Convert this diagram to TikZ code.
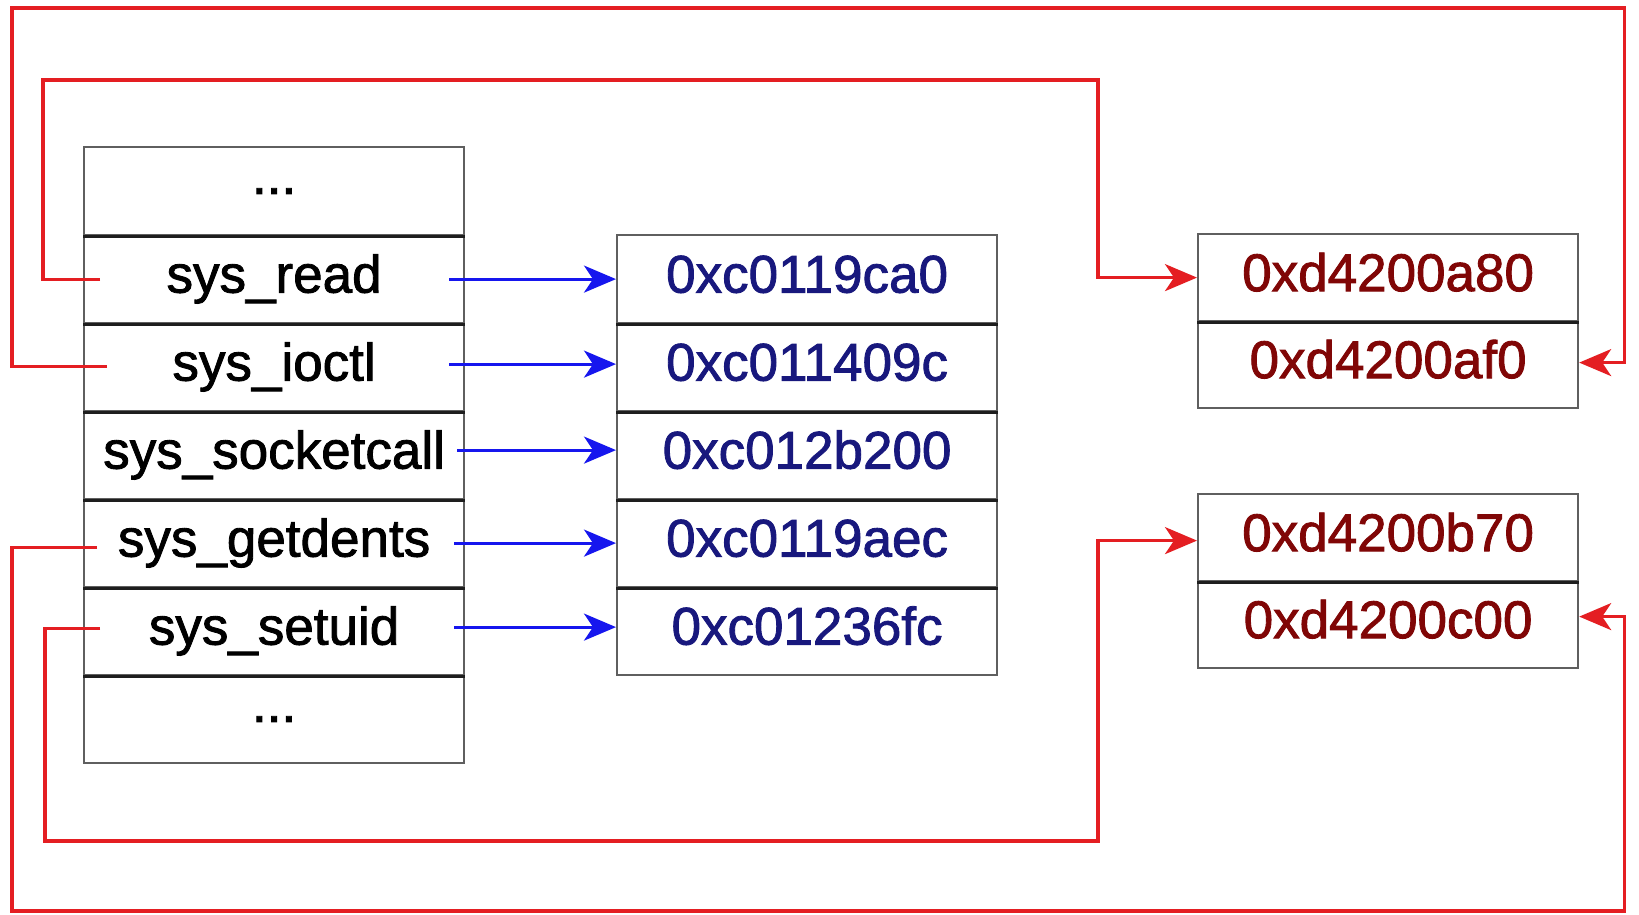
\documentclass[tikz,border=0pt]{standalone}
\usepackage{fontspec}
\setmainfont{Liberation Sans}
\newfontfamily\heavyfont{Liberation Sans}[FakeBold=1.6]
\usetikzlibrary{arrows.meta}
\definecolor{redln}{RGB}{228,30,34}
\definecolor{blueln}{RGB}{22,22,238}
\definecolor{bluetxt}{RGB}{24,24,125}
\definecolor{redtxt}{RGB}{128,6,6}
\definecolor{boxgray}{RGB}{95,95,95}
\definecolor{sepcol}{RGB}{30,30,30}
\tikzset{
  cell/.style={draw=boxgray, line width=2.2pt, minimum width=380pt, minimum height=88pt,
    inner sep=0pt, anchor=north west, font=\heavyfont\fontsize{53pt}{60pt}\selectfont,
    text height=38pt, text depth=11pt},
  dotcell/.style={cell, text height=, text depth=},
  rcell/.style={cell, minimum height=87pt, text=redtxt},
  mcell/.style={cell, text=bluetxt},
  sepline/.style={draw=sepcol, line width=3.4pt},
  bluearrow/.style={draw=blueln, line width=3pt, -{Stealth[length=32pt,width=27pt,inset=9pt]}},
  redarrow/.style={draw=redln, line width=3.2pt, -{Stealth[length=32pt,width=27pt,inset=9pt]}},
}
\begin{document}
\begin{tikzpicture}[x=1pt,y=-1pt]
\useasboundingbox (0,0) rectangle (1639,914);
\fill[white] (0,0) rectangle (1639,914);

% left table
\node[dotcell] (l0) at (83,146) {...};
\node[cell] (l1) at (83,234) {sys\_read};
\node[cell] (l2) at (83,322) {sys\_ioctl};
\node[cell] (l3) at (83,410) {sys\_socketcall};
\node[cell] (l4) at (83,498) {sys\_getdents};
\node[cell] (l5) at (83,586) {sys\_setuid};
\node[dotcell] (l6) at (83,674) {...};
\foreach \n in {l0,l1,l2,l3,l4,l5}
  \draw[sepline] (\n.south west) -- (\n.south east);

% middle table
\node[mcell] (m1) at (616,234) {0xc0119ca0};
\node[mcell] (m2) at (616,322) {0xc011409c};
\node[mcell] (m3) at (616,410) {0xc012b200};
\node[mcell] (m4) at (616,498) {0xc0119aec};
\node[mcell] (m5) at (616,586) {0xc01236fc};
\foreach \n in {m1,m2,m3,m4}
  \draw[sepline] (\n.south west) -- (\n.south east);

% right tables
\node[rcell] (a1) at (1197,233) {0xd4200a80};
\node[rcell] (a2) at (1197,320) {0xd4200af0};
\node[rcell] (b1) at (1197,493) {0xd4200b70};
\node[rcell] (b2) at (1197,580) {0xd4200c00};
\draw[sepline] (a1.south west) -- (a1.south east);
\draw[sepline] (b1.south west) -- (b1.south east);

% blue arrows
\draw[bluearrow] ([xshift=-16pt]l1.east) -- (m1.west);
\draw[bluearrow] ([xshift=-16pt,yshift=3pt]l2.east) -- ([yshift=3pt]m2.west);
\draw[bluearrow] ([xshift=-8pt,yshift=5pt]l3.east) -- ([yshift=5pt]m3.west);
\draw[bluearrow] ([xshift=-11pt]l4.east) -- (m4.west);
\draw[bluearrow] ([xshift=-11pt,yshift=4pt]l5.east) -- ([yshift=4pt]m5.west);

% red arrows
\draw[redarrow] ([xshift=17pt]l1.west) -| (43,80) -| ([xshift=-99pt]a1.west) -- (a1.west);
\draw[redarrow] ([xshift=24pt,yshift=1pt]l2.west) -| (12,8) -| ([xshift=45pt,yshift=2pt]a2.east) -- ([yshift=2pt]a2.east);
\draw[redarrow] ([xshift=14pt,yshift=-4pt]l4.west) -| (12,911) -| ([xshift=45pt,yshift=8pt]b2.east) -- ([yshift=8pt]b2.east);
\draw[redarrow] ([xshift=17pt,yshift=3pt]l5.west) -| (45,841) -| ([xshift=-99pt,yshift=-3pt]b1.west) -- ([yshift=-3pt]b1.west);
\end{tikzpicture}
\end{document}
